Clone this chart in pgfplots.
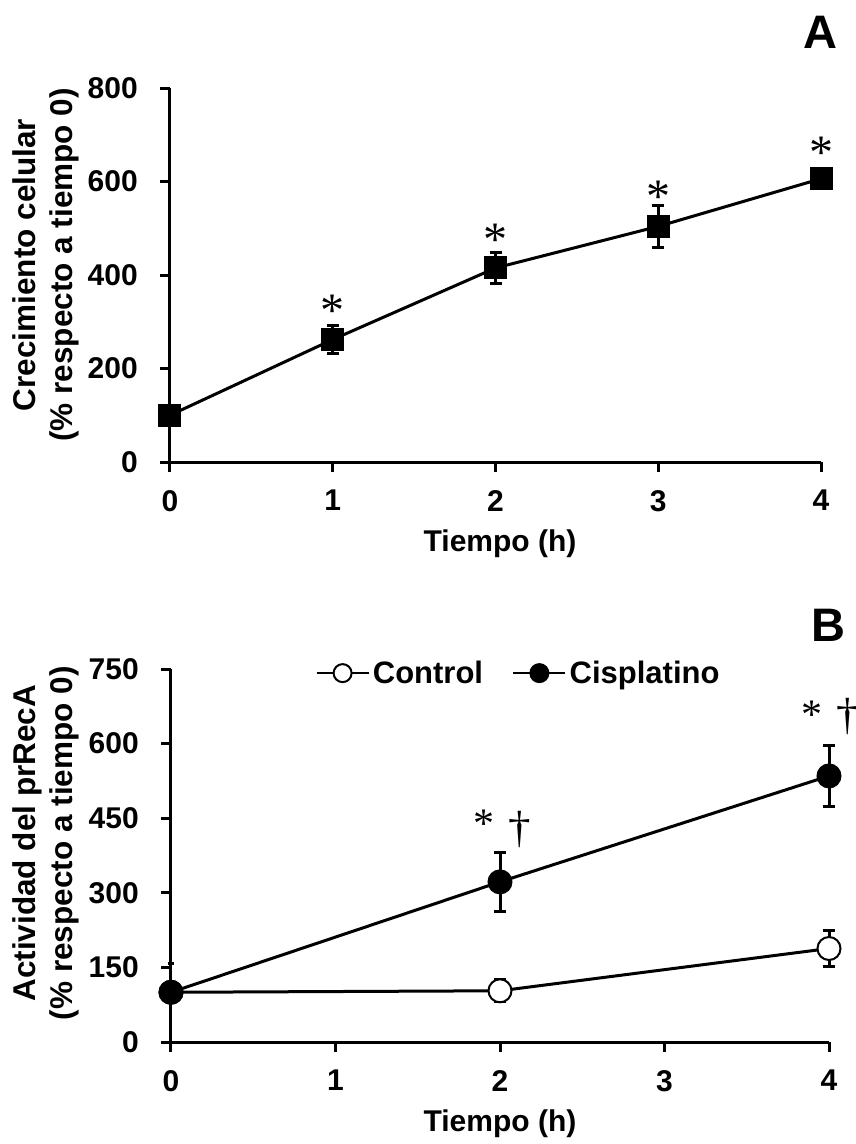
\documentclass[border=0pt]{standalone}
\usepackage{fontspec}
\setmainfont{Liberation Sans}
\newfontfamily\serifsym{Liberation Serif}
\usepackage{pgfplots}
\pgfplotsset{compat=1.18}

\pgfplotsset{
  panel/.style={
    scale only axis, clip=false, enlargelimits=false,
    axis x line=bottom, axis y line=left,
    axis line style={-, line width=3pt},
    every tick/.style={black, line width=3pt},
    tick align=outside, major tick length=10pt,
    minor tick num=0,
    xmin=0, xmax=4, xtick={0,1,2,3,4},
    /pgf/number format/assume math mode=true,
    ticklabel style={font=\fontsize{30}{30}\selectfont\bfseries},
    xticklabel style={anchor=north, inner sep=0pt, yshift=-18pt},
    yticklabel style={anchor=east, inner sep=0pt, xshift=-22pt},
  },
  ebars/.style={
    only marks, mark=none, forget plot,
    error bars/.cd, y dir=both, y explicit,
    error mark=-,
    error bar style={line width=3pt, black},
    error mark options={rotate=90, mark size=6pt, line width=3pt, black},
    /pgfplots/.cd,
  },
  halfcap/.style={
    /pgfplots/error bars/error mark options={rotate=90, mark size=3pt,
      line width=3pt, black, xshift=3pt},
  },
}

\begin{document}
\begin{tikzpicture}[x=1pt,y=1pt]
\useasboundingbox (0,0) rectangle (856,-1144);

% ---------------- Panel A: cell growth ----------------
\begin{axis}[panel,
  at={(170pt,-462pt)}, anchor=south west,
  width=651pt, height=374pt,
  ymin=0, ymax=800, ytick={0,200,400,600,800}]
  \addplot[ebars] coordinates {
    (1,262) +- (0,30)
    (2,415) +- (0,34)
    (3,504) +- (0,45)
    (4,606) +- (0,12)
  };
  \addplot[black, line width=3pt, mark=square*, mark size=11pt,
    mark options={solid, fill=black, line width=1pt}] coordinates {
    (0,100) (1,262) (2,415) (3,504) (4,606)
  };
  % significance marks
  \begin{scope}[font=\serifsym\fontsize{48}{48}\selectfont]
    \node[anchor=base] at (axis cs:1,289) {*};
    \node[anchor=base] at (axis cs:2,442) {*};
    \node[anchor=base] at (axis cs:3,533) {*};
    \node[anchor=base] at (axis cs:4,627) {*};
  \end{scope}
  \node[rotate=90, align=center, anchor=center,
    font=\fontsize{31.5}{37}\selectfont\bfseries]
    at (axis description cs:-0.19,0.527)
    {Crecimiento celular\\(\% respecto a tiempo 0)};
  \node[anchor=base, font=\fontsize{30}{30}\selectfont\bfseries]
    at (axis description cs:0.507,0) [yshift=-89pt] {Tiempo (h)};
\end{axis}

% ---------------- Panel B: prRecA activity ----------------
\begin{axis}[panel,
  at={(171pt,-1042pt)}, anchor=south west,
  width=658pt, height=373pt,
  ymin=0, ymax=750, ytick={0,150,300,450,600,750},
  legend columns=2,
  legend style={draw=none, fill=none, inner sep=0pt,
    at={(axis description cs:0.219,0.989)}, anchor=west,
    font=\fontsize{31}{31}\selectfont\bfseries,
    nodes={inner sep=3pt},
    /tikz/every even column/.append style={column sep=26pt}},
  legend image code/.code={
    \draw[mark repeat=2, mark phase=2, mark size=9pt, line width=2.6pt]
      plot coordinates {(0pt,0pt) (26pt,0pt) (52pt,0pt)};}
  ]
  \addplot[ebars] coordinates {
    (2,103) +- (0,22)
    (4,188) +- (0,37)
  };
  \addplot[ebars] coordinates {
    (2,322) +- (0,59)
    (4,535) +- (0,62)
  };
  % upper bar at t = 0, its cap cut at the y axis
  \addplot[ebars, halfcap] coordinates {
    (0,100) += (0,58) -= (0,0)
  };
  \addplot[black, line width=3pt, mark=*, mark size=11.5pt,
    mark options={solid, fill=white, line width=2pt}] coordinates {
    (0,100) (2,103) (4,188)
  };
  \addlegendentry{Control}
  \addplot[black, line width=3pt, mark=*, mark size=11.5pt,
    mark options={solid, fill=black, line width=2pt}] coordinates {
    (0,100) (2,322) (4,535)
  };
  \addlegendentry{Cisplatino}
  % significance marks
  \begin{scope}[font=\serifsym\fontsize{42}{42}\selectfont]
    \node[anchor=base] at (axis cs:1.903,412) {*};
    \node[anchor=base] at (axis cs:3.897,631) {*};
  \end{scope}
  \begin{scope}[font=\serifsym\fontsize{45}{45}\selectfont]
    \node[anchor=base] at (axis cs:2.122,402) {\char"2020};
    \node[anchor=base] at (axis cs:4.116,629) {\char"2020};
  \end{scope}
  \node[rotate=90, align=center, anchor=center,
    font=\fontsize{31.5}{37}\selectfont\bfseries]
    at (axis description cs:-0.19,0.533)
    {Actividad del prRecA\\(\% respecto a tiempo 0)};
  \node[anchor=base, font=\fontsize{30}{30}\selectfont\bfseries]
    at (axis description cs:0.5,0) [yshift=-89pt] {Tiempo (h)};
\end{axis}

% panel letters
\node[font=\fontsize{47}{47}\selectfont\bfseries] at (820,-32) {A};
\node[font=\fontsize{47}{47}\selectfont\bfseries] at (828,-625) {B};
\end{tikzpicture}
\end{document}
